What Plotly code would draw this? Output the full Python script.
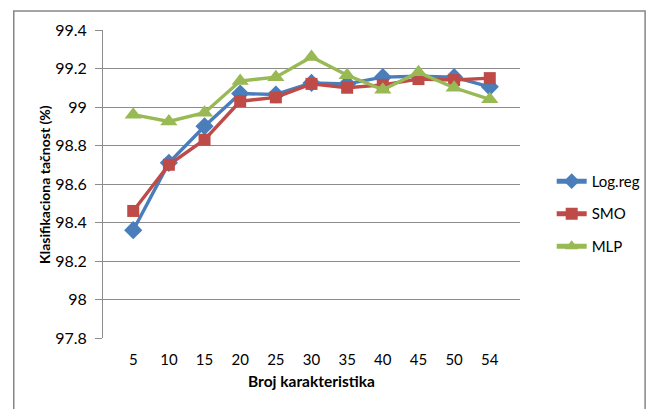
import plotly.graph_objects as go

categories = ["5", "10", "15", "20", "25", "30", "35", "40", "45", "50", "54"]
log_reg = [98.36, 98.71, 98.90, 99.07, 99.065, 99.125, 99.12, 99.155, 99.16, 99.155, 99.105]
smo = [98.46, 98.70, 98.83, 99.03, 99.05, 99.12, 99.10, 99.115, 99.145, 99.14, 99.15]
mlp = [98.96, 98.925, 98.97, 99.135, 99.155, 99.26, 99.165, 99.09, 99.18, 99.10, 99.04]
y_tick_vals = [97.8, 98.0, 98.2, 98.4, 98.6, 98.8, 99.0, 99.2, 99.4]
y_tick_text = ["97.8", "98", "98.2", "98.4", "98.6", "98.8", "99", "99.2", "99.4"]

FONT = "Lato, Noto Sans, sans-serif"

fig = go.Figure()
series = [
    ("Log.reg", log_reg, "#4A7EBB", "diamond", 14),
    ("SMO", smo, "#BE4B48", "square", 12),
    ("MLP", mlp, "#98B954", "triangle-up", 15),
]
for i, (name, vals, col, sym, sz) in enumerate(series):
    fig.add_trace(go.Scatter(
        x=categories, y=vals, name=name, mode="lines+markers",
        line=dict(color=col, width=3.4),
        marker=dict(symbol=sym, size=sz, color=col),
        legendgroup=name,
    ))

# page has an 8px body margin: figure spans 8..658 x 8..409
fig.update_layout(
    width=650, height=401,
    margin=dict(l=95, r=121, t=22, b=71),
    paper_bgcolor="white", plot_bgcolor="white",
    font=dict(family=FONT, size=14, color="#000000"),
    showlegend=True,
    legend=dict(x=1.076, y=0.403, xanchor="left", yanchor="middle",
                font=dict(size=15), tracegroupgap=10, traceorder="grouped",
                itemsizing="constant", itemwidth=30, bgcolor="rgba(0,0,0,0)"),
    xaxis=dict(
        type="category", showgrid=False, showline=False,
        ticks="outside", ticklen=8, tickcolor="rgba(0,0,0,0)",
        tickfont=dict(size=15), zeroline=False,
        title=dict(text="<b>Broj karakteristika</b>", font=dict(size=15.5), standoff=9),
    ),
    yaxis=dict(
        range=[97.8, 99.4], tickvals=y_tick_vals, ticktext=y_tick_text,
        showgrid=True, gridcolor="#8C8C8C", gridwidth=1,
        showline=True, linecolor="#8C8C8C", linewidth=1,
        ticks="outside", ticklen=7, tickcolor="#8C8C8C",
        ticklabelstandoff=5, tickfont=dict(size=16), zeroline=False,
    ),
    annotations=[dict(text="<b>Klasifikaciona tačnost (%)</b>", textangle=-90,
                      xref="paper", yref="paper", x=-0.1417, y=0.5,
                      xanchor="center", yanchor="middle", showarrow=False,
                      font=dict(size=14))],
    shapes=[dict(type="rect", xref="paper", yref="paper",
                 x0=-0.214, x1=1.3, y0=-0.3, y1=1.062,
                 line=dict(color="#868686", width=1.5), fillcolor="rgba(0,0,0,0)", layer="below")],
)

fig.write_html("out.html")
